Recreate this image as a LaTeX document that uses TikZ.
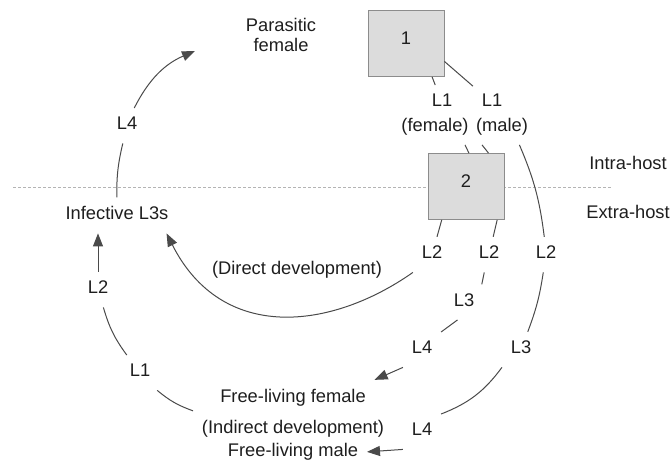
\documentclass[tikz,border=0pt]{standalone}
\usepackage{fontspec}
\setmainfont{Liberation Sans}
\usetikzlibrary{arrows.meta}
\definecolor{inkgray}{HTML}{1E1E1E}
\definecolor{linegray}{HTML}{4A4A4A}
\definecolor{boxfill}{HTML}{DCDCDC}
\definecolor{boxedge}{HTML}{8C8C8C}
\definecolor{dashgray}{HTML}{B4B4B4}

\begin{document}
\begin{tikzpicture}[x = 0.5pt, y = -0.5pt, >={Triangle[length = 6.5pt, width = 5pt]},
  lbl/.style = {anchor = base, inner sep = 4.25pt, text depth = 2.5pt, text = inkgray, font = \fontsize{9.15pt}{10pt}\selectfont},
  stagebox/.style = {draw = boxedge, fill = boxfill, minimum width = 38pt, minimum height = 33pt, inner sep = 0pt, text depth = 5pt, text = inkgray, font = \fontsize{9.15pt}{10pt}\selectfont},
  link/.style = {draw = linegray, line width = 0.5pt},
  hostline/.style = {draw = dashgray, line width = 0.5pt, dash pattern = on 1.5pt off 1pt}]
\useasboundingbox (0,0) rectangle (672,461);
\coordinate (hl) at (13,187);
\coordinate (hr) at (613,187);
\draw[hostline] (hl) -- (hr);
\node (box1) at (406,43.5) [stagebox] {1};
\node (box2) at (466,186.5) [stagebox] {2};
\node (para) at (281,9) [lbl, anchor = north, align = center, text depth = 0pt] {Parasitic\\female};
\coordinate (pftip) at (195,51);
\node (l1f) at (442,106.5) [lbl] {L1};
\node (l1m) at (492,106.5) [lbl] {L1};
\node (femtag) at (435,131) [lbl] {(female)};
\node (maletag) at (502,131) [lbl] {(male)};
\node (intra) at (628,169) [lbl] {Intra-host};
\node (extra) at (628,218) [lbl] {Extra-host};
\node (infect) at (117,219.5) [lbl] {Infective L3s};
\node (l4a) at (127,129.5) [lbl] {L4};
\node (l2a) at (98,293.5) [lbl] {L2};
\node (l1a) at (140,376.5) [lbl] {L1};
\node (direct) at (297,274.5) [lbl] {(Direct development)};
\node (l2b) at (432,258.5) [lbl] {L2};
\node (l2c) at (489,258.5) [lbl] {L2};
\node (l2d) at (546,258.5) [lbl] {L2};
\node (l3c) at (464,306) [lbl] {L3};
\node (l3d) at (521,353.5) [lbl] {L3};
\node (l4c) at (422,353.5) [lbl] {L4};
\node (l4d) at (422,435.5) [lbl] {L4};
\node (freef) at (293,402) [lbl] {Free-living female};
\node (indirect) at (293,433) [lbl] {(Indirect development)};
\node (freem) at (293,456) [lbl] {Free-living male};
\draw[link] (box1.-52) -- (l1f);
\draw[link] (box1.-25) -- (l1m);
\draw[link] (femtag.-31) -- (box2.85);
\draw[link] (maletag.-138) -- (box2.56);
\draw[link] (maletag.-46) to[bend left = 8] (l2d);
\draw[link] (box2.-126) -- (l2b);
\draw[link] (box2.-47) -- (l2c);
\draw[link] (l2c.-105) -- (l3c.45);
\draw[link] (l3c.-110) -- (l4c.north east);
\draw[link, ->] (l4c.south west) -- (freef.north east);
\draw[link] (l2d) to[bend left = 6] (l3d);
\draw[link] (l3d.south west) to[bend left = 16] (l4d.north east);
\draw[link, ->] (l4d.south west) -- (freem.east);
\draw[link] (indirect.north west) to[bend left = 10] (l1a);
\draw[link] (l1a) to[bend left = 10] (l2a);
\draw[link, ->] (l2a.north) -- (l2a.north |- infect.south);
\draw[link] (infect) to[bend left = 7] (l4a);
\draw[link, ->] (l4a) to[bend left = 20] (pftip);
\draw[link, ->] (l2b.south west) .. controls (331,330) and (222,343) .. (infect.-20);
\end{tikzpicture}
\end{document}
